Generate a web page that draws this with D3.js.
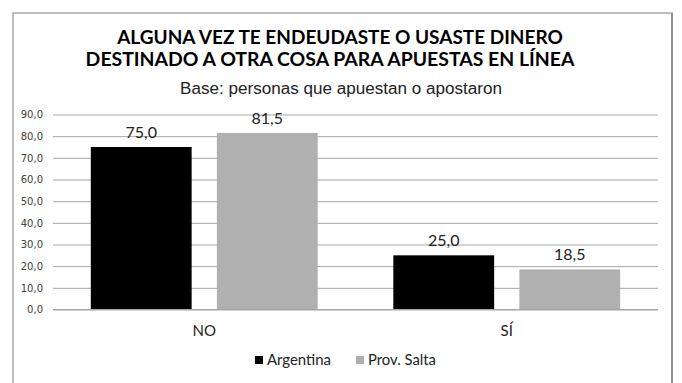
<!DOCTYPE html>
<html><head><meta charset="utf-8">
<script src="https://cdn.jsdelivr.net/npm/d3@7"></script>
<style>body{margin:0;background:#fff}svg{display:block}</style>
</head><body>
<script>
const titleLines = ["ALGUNA VEZ TE ENDEUDASTE O USASTE DINERO", "DESTINADO A OTRA COSA PARA APUESTAS EN LÍNEA"];
const subtitle = "Base: personas que apuestan o apostaron";
const categories = ["NO", "SÍ"];
const seriesNames = ["Argentina", "Prov. Salta"];
const argentina = [75.0, 25.0];
const salta = [81.5, 18.5];
const yTicks = [0, 10, 20, 30, 40, 50, 60, 70, 80, 90];
const colors = ["#000000", "#b0b0b0"];

const W = 682, H = 383;
const svg = d3.select("body").append("svg").attr("width", W).attr("height", H);
const fmt = v => d3.format(".1f")(v).replace(".", ",");

// frame
svg.append("rect").attr("x", 13).attr("y", 13).attr("width", 659).attr("height", 400)
  .attr("fill", "#fff").attr("stroke", "#bdbdbd").attr("stroke-width", 2);
svg.append("line").attr("x1", 672).attr("x2", 672).attr("y1", 13).attr("y2", H)
  .attr("stroke", "#8f8f8f").attr("stroke-width", 2);

function fit(t, w) {
  const cur = t.node().getComputedTextLength();
  const fs = parseFloat(t.attr("font-size"));
  t.attr("font-size", fs * w / cur);
}

const t1 = svg.append("text").attr("x", 340).attr("y", 44).attr("text-anchor", "middle")
  .attr("font-family", "Lato, 'Open Sans', sans-serif").attr("font-weight", "bold")
  .attr("font-size", 19).attr("fill", "#000").text(titleLines[0]);
fit(t1, 446);
const t2 = svg.append("text").attr("x", 330).attr("y", 66).attr("text-anchor", "middle")
  .attr("font-family", "Lato, 'Open Sans', sans-serif").attr("font-weight", "bold")
  .attr("font-size", 19).attr("fill", "#000").text(titleLines[1]);
fit(t2, 489);
const st = svg.append("text").attr("x", 341).attr("y", 94).attr("text-anchor", "middle")
  .attr("font-family", "'Liberation Sans', Arial, sans-serif")
  .attr("font-size", 15).attr("fill", "#222").text(subtitle);
fit(st, 322);

const x0 = d3.scaleBand().domain(categories).range([53, 658]).paddingInner(0).paddingOuter(0);
const x1 = d3.scaleBand().domain(seriesNames).range([0, x0.bandwidth()]).paddingInner(0.2).paddingOuter(0.3);
const y = d3.scaleLinear().domain([0, 90]).range([309.5, 114.5]);

// gridlines
const yAxis = d3.axisLeft(y).tickValues(yTicks).tickSize(-(658 - 53)).tickFormat(fmt).tickPadding(10);
const ga = svg.append("g").attr("transform", "translate(53,0)").call(yAxis);
ga.select(".domain").remove();
ga.selectAll(".tick line").attr("stroke", "#a6a6a6").attr("stroke-width", 1);
ga.selectAll(".tick text").attr("font-family", "'DejaVu Sans', Verdana, sans-serif")
  .attr("font-size", 10).attr("fill", "#404040");

const series = [argentina, salta];
const groups = svg.append("g");
categories.forEach((c, i) => {
  seriesNames.forEach((s, j) => {
    const v = series[j][i];
    const bx = x0(c) + x1(s);
    groups.append("rect").attr("x", bx).attr("y", y(v)).attr("width", x1.bandwidth())
      .attr("height", y(0) - y(v)).attr("fill", colors[j]);
    groups.append("text").attr("x", bx + x1.bandwidth() / 2).attr("y", y(v) - 9)
      .attr("text-anchor", "middle").attr("font-family", "Lato, 'Open Sans', sans-serif")
      .attr("font-size", 16).attr("fill", "#222").text(fmt(v));
  });
  svg.append("text").attr("x", x0(c) + x0.bandwidth() / 2).attr("y", 336)
    .attr("text-anchor", "middle").attr("font-family", "Lato, 'Open Sans', sans-serif")
    .attr("font-size", 15).attr("fill", "#222").text(c);
});
// baseline
svg.append("line").attr("x1", 53).attr("x2", 658).attr("y1", y(0)).attr("y2", y(0))
  .attr("stroke", "#a6a6a6");

// legend
const legX = [255, 356];
seriesNames.forEach((s, j) => {
  svg.append("rect").attr("x", legX[j]).attr("y", 356).attr("width", 8).attr("height", 8).attr("fill", colors[j]);
  const lt = svg.append("text").attr("x", legX[j] + 12).attr("y", 365)
    .attr("font-family", "Lato, 'Open Sans', sans-serif").attr("font-size", 14)
    .attr("fill", "#222").text(s);
  fit(lt, j === 0 ? 64 : 68);
});
</script>
</body></html>
